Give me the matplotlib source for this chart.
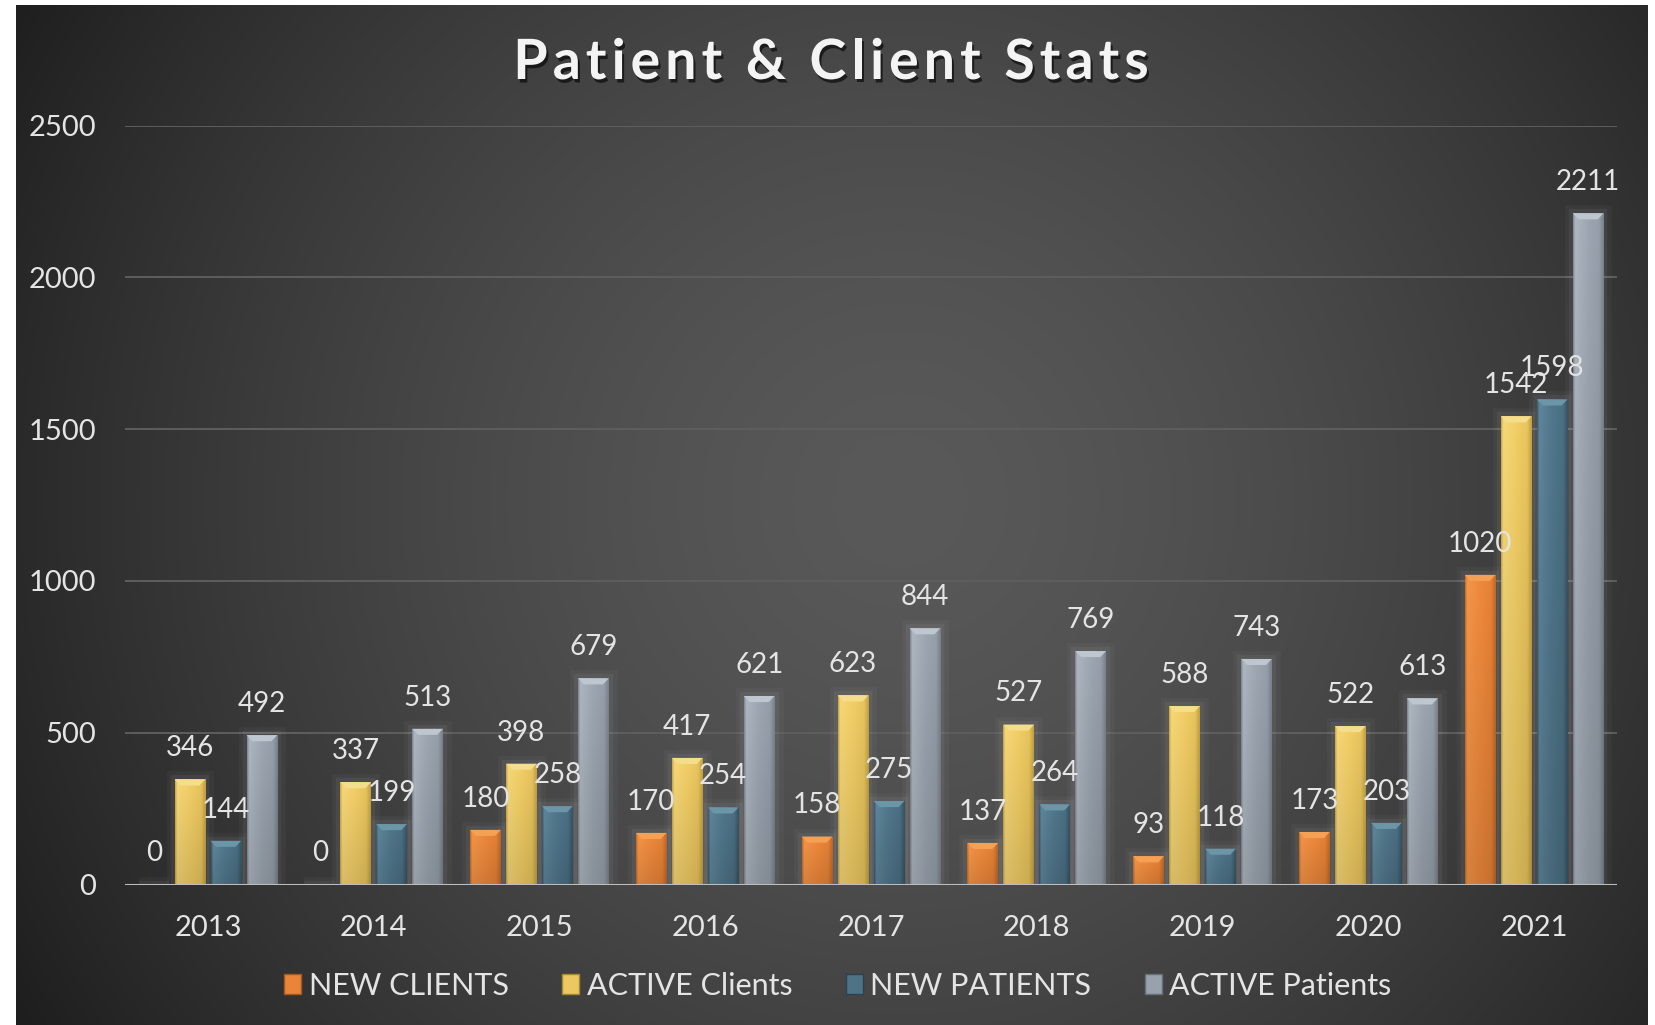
import numpy as np
import matplotlib
matplotlib.use('Agg')
import matplotlib.pyplot as plt
from matplotlib.patches import Patch, Polygon
import matplotlib.patheffects as pe
from matplotlib.colors import to_rgb

# ---------------- data ----------------
years = ['2013', '2014', '2015', '2016', '2017', '2018', '2019', '2020', '2021']
new_clients = [0, 0, 180, 170, 158, 137, 93, 173, 1020]
active_clients = [346, 337, 398, 417, 623, 527, 588, 522, 1542]
new_patients = [144, 199, 258, 254, 275, 264, 118, 203, 1598]
active_patients = [492, 513, 679, 621, 844, 769, 743, 613, 2211]
series_names = ['NEW CLIENTS', 'ACTIVE Clients', 'NEW PATIENTS', 'ACTIVE Patients']
y_ticks = [0, 500, 1000, 1500, 2000, 2500]
title = 'Patient & Client Stats'

series_vals = [new_clients, active_clients, new_patients, active_patients]
# base, light, dark
palette = [
    ('#E8853A', '#F8A95E', '#A85718'),
    ('#EBC862', '#F8E49C', '#A8882E'),
    ('#4E7387', '#77A0B3', '#2A4250'),
    ('#98A1AC', '#CBD2DA', '#666E78'),
]

FONT = ['Lato', 'DejaVu Sans']
TXT = '#E4E4E4'

W, H = 1655, 1025
fig = plt.figure(figsize=(W / 100, H / 100), dpi=100, facecolor='white')

# ---------------- background panel (radial gradient) ----------------
bg = fig.add_axes([16 / W, 0, (1648 - 16) / W, (1025 - 5) / H])
bg.axis('off')
xs = np.arange(16, 1648)
ys = np.arange(5, 1025)
X, Y = np.meshgrid(xs, ys)
r = np.hypot(X - 900, Y - 500) / 1000.0
v = (89 - 57 * np.clip(r, 0, 1.2) ** 1.5) / 255.0
bg.imshow(np.dstack([v, v, v]), aspect='auto', extent=[0, 1, 0, 1], origin='upper')
bg.set_xlim(0, 1)
bg.set_ylim(0, 1)

# ---------------- main axes ----------------
ax_l, ax_r = 125, 1617
ax_t, ax_b = 125.6, 884.5
ax = fig.add_axes([ax_l / W, 1 - ax_b / H, (ax_r - ax_l) / W, (ax_b - ax_t) / H])
ax.set_facecolor('none')
for s in ax.spines.values():
    s.set_visible(False)

x = np.arange(len(years))
pitch = 0.217
width = 0.185
offsets = (np.arange(4) - 1.5) * pitch

ax.set_xlim(-0.5, len(years) - 0.5)
ax.set_ylim(0, 2500)
ax.set_yticks(y_ticks)
ax.set_yticklabels([str(t) for t in y_ticks])
ax.set_xticks(x)
ax.set_xticklabels(years)
ax.tick_params(axis='both', length=0, labelsize=21, labelcolor=TXT)
ax.tick_params(axis='y', pad=21)
ax.tick_params(axis='x', pad=22)
for lab in ax.get_xticklabels() + ax.get_yticklabels():
    lab.set_family(FONT)
ax.grid(axis='y', color='#5E5E5E', linewidth=1.4, zorder=0)
ax.set_axisbelow(True)
ax.axhline(0, color='#BDBDBD', linewidth=2.2, zorder=5)


def mix(c1, c2, t):
    a, b = np.array(to_rgb(c1)), np.array(to_rgb(c2))
    return a * (1 - t) + b * t


def bar_image(base, light, dark):
    nx, ny = 64, 32
    t = np.linspace(0, 1, nx)
    keys = [0.0, 0.07, 0.16, 0.5, 0.85, 0.93, 1.0]
    cols = [mix(base, dark, 0.6), mix(base, light, 0.35), mix(base, light, 0.25),
            np.array(to_rgb(base)), mix(base, dark, 0.15), mix(base, dark, 0.45),
            mix(base, dark, 0.7)]
    cols = np.array(cols)
    row = np.stack([np.interp(t, keys, cols[:, k]) for k in range(3)], axis=-1)
    vy = np.linspace(1.03, 0.90, ny)[:, None, None]
    img = np.clip(row[None, :, :] * vy, 0, 1)
    return img


dx_ch = 0.035
dy_ch = 20
for i, (vals, (base, light, dark)) in enumerate(zip(series_vals, palette)):
    bars = ax.bar(x + offsets[i], vals, width=width, color=base, zorder=3,
                  linewidth=0)
    img = bar_image(base, light, dark)
    for b, val in zip(bars, vals):
        b.set_path_effects([pe.Stroke(linewidth=12, foreground='white', alpha=0.03),
                            pe.Stroke(linewidth=6, foreground='white', alpha=0.05),
                            pe.Normal()])
        x0 = b.get_x()
        x1 = x0 + b.get_width()
        if val > 0:
            im = ax.imshow(img, extent=[x0, x1, 0, val], aspect='auto', zorder=3.2,
                           origin='upper', interpolation='bilinear')
            im.set_clip_path(b)
            if val > dy_ch * 1.5:
                top = Polygon([[x0, val], [x1, val], [x1 - dx_ch, val - dy_ch],
                               [x0 + dx_ch, val - dy_ch]], closed=True,
                              facecolor=mix(base, light, 0.75), edgecolor='none',
                              zorder=3.4)
                ax.add_patch(top)
        ax.annotate(str(val), (x0 + b.get_width() / 2, val), xytext=(0, 13),
                    textcoords='offset points', ha='center', va='bottom',
                    fontsize=20, color=TXT, family=FONT, zorder=6,
                    annotation_clip=False)

ax.set_xlim(-0.5, len(years) - 0.5)
ax.set_ylim(0, 2500)

# ---------------- legend ----------------
handles = [Patch(facecolor=p[0], edgecolor=p[2], linewidth=1) for p in palette]
leg = fig.legend(handles, series_names, loc='center', bbox_to_anchor=(838 / W, 1 - 986 / H),
                 ncol=4, frameon=False, handlelength=0.55, handleheight=0.62,
                 handletextpad=0.25, columnspacing=1.75, labelcolor=TXT,
                 prop={'family': FONT, 'size': 22})

# ---------------- title (letter-spaced) ----------------
renderer = fig.canvas.get_renderer()
tkw = dict(fontsize=40, fontweight='bold', family=FONT)


def text_w(s):
    t = fig.text(0, 0, s, **tkw)
    w = t.get_window_extent(renderer=renderer).width
    t.remove()
    return w


track = 5.0  # px extra per character
full_w = text_w(title) + track * (len(title) - 1)
left_px = 831 - full_w / 2
y_title = 1 - 63 / H
shadow = [pe.SimplePatchShadow(offset=(1.5, -2.5), shadow_rgbFace='black', alpha=0.6),
          pe.Normal()]
for k, ch in enumerate(title):
    if ch == ' ':
        continue
    xk = left_px + text_w(title[:k + 1]) - text_w(ch) + k * track
    fig.text(xk / W, y_title, ch, ha='left', va='center', color='#F4F4F4',
             path_effects=shadow, **tkw)

fig.savefig('out.png', dpi=100, facecolor=fig.get_facecolor())
